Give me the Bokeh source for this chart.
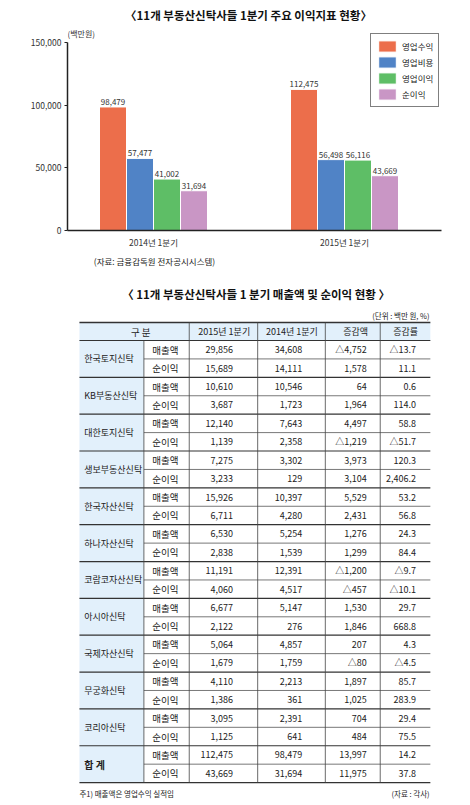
from bokeh.plotting import figure
from bokeh.layouts import column
from bokeh.models import Range1d, FixedTicker, NumeralTickFormatter
from bokeh.core.properties import value
from bokeh.embed import file_html
from bokeh.resources import INLINE

FONT = "Noto Sans CJK KR"

# ---------------- chart data ----------------
periods = ["2014년 1분기", "2015년 1분기"]
series = ["영업수익", "영업비용", "영업이익", "순이익"]
op_revenue = [98479, 112475]
op_expense = [57477, 56498]
op_income = [41002, 56116]
net_income = [31694, 43669]
colors = ["#EC6E4B", "#5083C6", "#5EBE66", "#C996C5"]
y_ticks = [0, 50000, 100000, 150000]

# ---------------- table data ----------------
companies = ["한국토지신탁", "KB부동산신탁", "대한토지신탁", "생보부동산신탁", "한국자산신탁",
             "하나자산신탁", "코람코자산신탁", "아시아신탁", "국제자산신탁", "무궁화신탁",
             "코리아신탁", "합   계"]
row_kinds = ["매출액", "순이익"]
headers = ["2015년 1분기", "2014년 1분기", "증감액", "증감률"]
sales_2015 = [29856, 10610, 12140, 7275, 15926, 6530, 11191, 6677, 5064, 4110, 3095, 112475]
sales_2014 = [34608, 10546, 7643, 3302, 10397, 5254, 12391, 5147, 4857, 2213, 2391, 98479]
sales_chg = [-4752, 64, 4497, 3973, 5529, 1276, -1200, 1530, 207, 1897, 704, 13997]
sales_rate = [-13.7, 0.6, 58.8, 120.3, 53.2, 24.3, -9.7, 29.7, 4.3, 85.7, 29.4, 14.2]
net_2015 = [15689, 3687, 1139, 3233, 6711, 2838, 4060, 2122, 1679, 1386, 1125, 43669]
net_2014 = [14111, 1723, 2358, 129, 4280, 1539, 4517, 276, 1759, 361, 641, 31694]
net_chg = [1578, 1964, -1219, 3104, 2431, 1299, -457, 1846, -80, 1025, 484, 11975]
net_rate = [11.1, 114.0, -51.7, 2406.2, 56.8, 84.4, -10.1, 668.8, -4.5, 283.9, 75.5, 37.8]


def fmt_int(v):
    return ("△" if v < 0 else "") + "{:,}".format(abs(v))


def fmt_rate(v):
    return ("△" if v < 0 else "") + "{:,.1f}".format(abs(v))


# ---------------- chart figure ----------------
W = 470
CH = 250
B_LEFT, B_RIGHT, B_BOTTOM = 67, 29, 19
frame_w = W - B_LEFT - B_RIGHT
frame_h = CH - B_BOTTOM
px_per_group = 191.0
px_per_150k = 189.0
x_start = -86.0 / px_per_group
x_end = x_start + frame_w / px_per_group
y_end = 150000 * frame_h / px_per_150k


def cy(py):  # chart pixel-from-top -> data y
    return y_end * (1 - py / frame_h)


def cx(px):  # chart pixel-from-left -> data x
    return x_start + (px - B_LEFT) / px_per_group


p = figure(width=W, height=CH, x_range=Range1d(x_start, x_end), y_range=Range1d(0, y_end),
           output_backend="svg", toolbar_location=None, title=None,
           min_border_left=B_LEFT, min_border_right=B_RIGHT, min_border_top=0,
           min_border_bottom=B_BOTTOM)
p.outline_line_color = None
p.grid.visible = False
p.background_fill_color = "white"

bw = 27.0 / px_per_group
all_series = [op_revenue, op_expense, op_income, net_income]
for k, (name, vals, col) in enumerate(zip(series, all_series, colors)):
    off = (k - 1.5) * bw
    xs = [i + off for i in range(len(periods))]
    p.vbar(x=xs, top=vals, width=bw, fill_color=col, line_color="white", line_width=1,
           legend_label=name)
    p.text(x=xs, y=vals, text=["{:,}".format(v) for v in vals], text_align="center",
           text_baseline="bottom", y_offset=-2, text_font=value(FONT), text_font_size="8px",
           text_color="#333333")

p.text(x=[cx(248)], y=[cy(15)], text=["〈11개 부동산신탁사들 1분기 주요 이익지표 현황〉"],
       text_align="center", text_baseline="middle", text_font=value(FONT),
       text_font_size="11.5px", text_font_style="bold", text_color="#111111")
p.text(x=[x_start], y=[cy(33)], text=["(백만원)"], text_align="left", text_baseline="middle",
       text_font=value(FONT), text_font_size="8px", text_color="#333333")

xa = p.xaxis[0]
xa.ticker = FixedTicker(ticks=list(range(len(periods))))
xa.major_label_overrides = {i: s for i, s in enumerate(periods)}
xa.major_tick_out = 0
xa.major_tick_in = 0
xa.minor_tick_line_color = None
xa.axis_line_width = 1.5
xa.axis_line_color = "#222222"
xa.major_label_text_font = FONT
xa.major_label_text_font_size = "8.5px"
xa.major_label_text_color = "#333333"
xa.major_label_standoff = 5

ya = p.yaxis[0]
ya.ticker = FixedTicker(ticks=y_ticks)
ya.formatter = NumeralTickFormatter(format="0,0")
ya.bounds = (0, 150000)
ya.major_tick_out = 3
ya.major_tick_in = 0
ya.major_tick_line_color = "#222222"
ya.minor_tick_line_color = None
ya.axis_line_width = 1.5
ya.axis_line_color = "#222222"
ya.major_label_text_font = FONT
ya.major_label_text_font_size = "8.5px"
ya.major_label_text_color = "#333333"
ya.major_label_standoff = 3

lg = p.legend[0]
lg.location = (303, 123)
lg.margin = 0
lg.padding = 5
lg.spacing = 2
lg.glyph_width = 22
lg.glyph_height = 14
lg.label_height = 14
lg.label_width = 20
lg.label_standoff = 4
lg.label_text_font = FONT
lg.label_text_font_size = "8.5px"
lg.label_text_color = "#222222"
lg.border_line_color = "black"
lg.border_line_width = 1.5
lg.background_fill_alpha = 1

# ---------------- table figure ----------------
TH = 555
t = figure(width=W, height=TH, x_range=Range1d(0, W), y_range=Range1d(TH, 0),
           output_backend="svg", toolbar_location=None, title=None,
           x_axis_type=None, y_axis_type=None, min_border=0)
t.outline_line_color = None
t.grid.visible = False

BG = "#E2F0FB"
cols = [15, 96, 153, 239, 324, 393, 456]
top = 72
head_b = 90
rh = 18.42
n_rows = 2 * len(companies)
bottom = head_b + n_rows * rh

t.quad(left=[cols[0], cols[0]], right=[cols[-1], cols[1]], top=[top, head_b],
       bottom=[head_b, bottom], fill_color=BG, line_color=None)

# horizontal lines
t.segment(x0=[cols[0]], y0=[top], x1=[cols[-1]], y1=[top], line_color="#333333", line_width=1.5)
t.segment(x0=[cols[0]], y0=[head_b], x1=[cols[-1]], y1=[head_b], line_color="#333333",
          line_width=1.2)
ci = range(len(companies))
t.segment(x0=[cols[0]] * len(companies), y0=[head_b + (i + 1) * 2 * rh for i in ci],
          x1=[cols[-1]] * len(companies), y1=[head_b + (i + 1) * 2 * rh for i in ci],
          line_color="#333333", line_width=1.2)
t.segment(x0=[cols[1]] * len(companies), y0=[head_b + (2 * i + 1) * rh for i in ci],
          x1=[cols[-1]] * len(companies), y1=[head_b + (2 * i + 1) * rh for i in ci],
          line_color="#555555", line_width=0.8)
# vertical lines
t.segment(x0=[cols[1]], y0=[head_b], x1=[cols[1]], y1=[bottom], line_color="#444444",
          line_width=0.8)
t.segment(x0=cols[2:6], y0=[top] * 4, x1=cols[2:6], y1=[bottom] * 4, line_color="#444444",
          line_width=0.8)

common = dict(text_font=value(FONT), text_baseline="middle", text_color="#222222")
hy = (top + head_b) / 2
t.text(x=[96], y=[hy], text=["구    분"], text_align="center", text_font_size="9.5px", **common)
t.text(x=[197, 282, 362, 425], y=[hy] * 4, text=headers, text_align="center",
       text_font_size="9px", **common)

name_y = [head_b + (2 * i + 1) * rh for i in ci]
t.text(x=[21] * (len(companies) - 1), y=name_y[:-1], text=companies[:-1], text_align="left",
       text_font_size="9px", **common)
t.text(x=[21], y=[name_y[-1]], text=[companies[-1]], text_align="left",
       text_font_size="10px", text_font_style="bold", **common)

row_y = [head_b + (r + 0.5) * rh for r in range(n_rows)]
t.text(x=[123] * n_rows, y=row_y, text=row_kinds * len(companies), text_align="center",
       text_font_size="9.5px", **common)

c2015, c2014, cchg, crate = [], [], [], []
for i in ci:
    c2015 += [fmt_int(sales_2015[i]), fmt_int(net_2015[i])]
    c2014 += [fmt_int(sales_2014[i]), fmt_int(net_2014[i])]
    cchg += [fmt_int(sales_chg[i]), fmt_int(net_chg[i])]
    crate += [fmt_rate(sales_rate[i]), fmt_rate(net_rate[i])]
for xr, vals in zip([208, 295, 376, 438], [c2015, c2014, cchg, crate]):
    t.text(x=[xr] * n_rows, y=row_y, text=vals, text_align="right", text_font_size="9px",
           **common)

t.text(x=[33], y=[10], text=["(자료: 금융감독원 전자공시시스템)"], text_align="left",
       text_font_size="8.5px", **common)
t.text(x=[237], y=[43], text=["〈 11개 부동산신탁사들 1 분기 매출액 및 순이익 현황 〉"],
       text_align="center", text_font_size="11.5px", text_font_style="bold",
       text_font=value(FONT), text_baseline="middle", text_color="#111111")
t.text(x=[455], y=[65], text=["(단위 : 백만 원, %)"], text_align="right",
       text_font_size="7.5px", **common)
t.text(x=[15], y=[bottom + 10.5], text=["주1) 매출액은 영업수익 실적임"], text_align="left",
       text_font_size="7.5px", **common)
t.text(x=[455], y=[bottom + 10.5], text=["(자료 : 각사)"], text_align="right",
       text_font_size="7.5px", **common)

layout = column(p, t, spacing=0)
open("out.html", "w").write(file_html(layout, INLINE))
